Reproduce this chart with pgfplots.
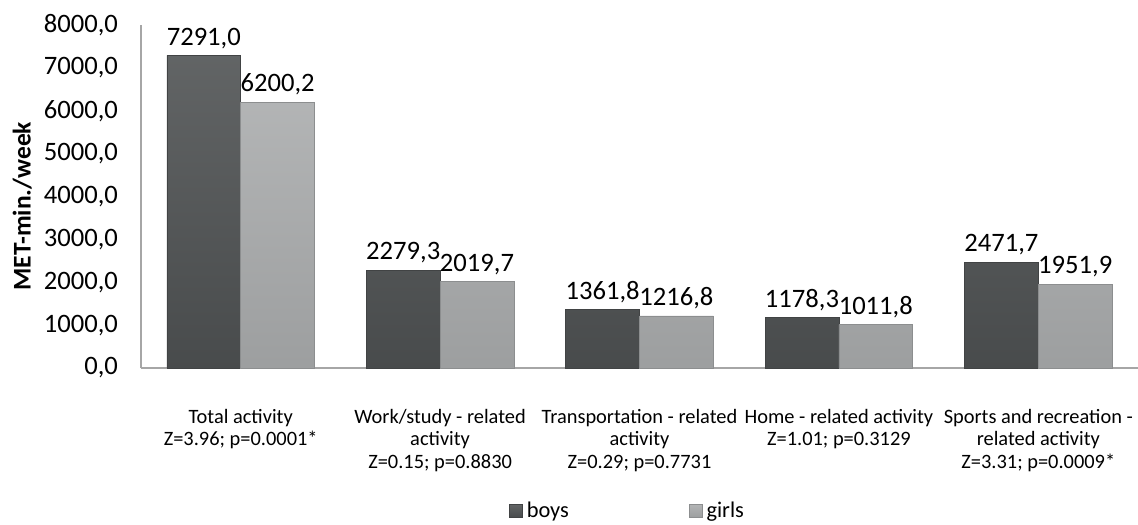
\documentclass[border=0pt]{standalone}
\usepackage{pgfplots}
\pgfplotsset{compat=1.18}
\usepackage{fontspec}
\setmainfont{Carlito}
\definecolor{boysc}{HTML}{4C4F50}
\definecolor{girlsc}{HTML}{A5A7A8}
\begin{document}
\begin{tikzpicture}
\begin{axis}[
  scale only axis,
  width=498.5pt, height=171.5pt,
  ymin=0, ymax=8000,
  xmin=-0.5, xmax=4.5,
  ytick={0,1000,...,8000},
  xtick={0,1,2,3,4},
  xticklabels={
    {Total activity\\Z=3.96; p=0.0001*},
    {Work/study - related\\activity\\Z=0.15; p=0.8830},
    {Transportation - related\\activity\\Z=0.29; p=0.7731},
    {Home - related activity\\Z=1.01; p=0.3129},
    {Sports and recreation -\\related activity\\Z=3.31; p=0.0009*}},
  xticklabel style={align=center, font=\fontsize{10.2}{11.3}\selectfont, yshift=-17pt},
  yticklabel style={font=\fontsize{13.3}{15}\selectfont, xshift=-8pt},
  major tick length=0pt,
  axis x line*=bottom,
  axis y line*=left,
  axis line style={draw=gray!70, line width=0.6pt},
  y axis line style={-},
  x axis line style={-},
  ylabel={\textbf{MET-min./week}},
  ylabel style={at={(axis description cs:-0.119,0.472)}, anchor=center, rotate=0, font=\fontsize{12.75}{14}\selectfont},
  yticklabel style={/pgf/number format/.cd, fixed, fixed zerofill, precision=1, use comma, 1000 sep={}, assume math mode=true},
  ybar, bar width=0.37,
  nodes near coords,
  nodes near coords style={font=\fontsize{13.3}{15}\selectfont, /pgf/number format/.cd, fixed, fixed zerofill, precision=1, use comma, 1000 sep={}, assume math mode=true},
  legend columns=2,
  legend style={at={(0.489,-0.417)}, anchor=center, draw=none, font=\fontsize{11.2}{13}\selectfont,
    /tikz/every even column/.append style={column sep=58pt}},
  legend image code/.code={\fill[#1] (0pt,-3.25pt) rectangle (6.5pt,3.25pt);},
]
\addplot[bar shift=-0.185, draw=boysc!85!black, line width=0.3pt, top color=boysc!88!white, bottom color=boysc!95!black] coordinates {(0,7291.0) (1,2279.3) (2,1361.8) (3,1178.3) (4,2471.7)};
\addlegendentry{boys}
\addplot[bar shift=0.185, draw=girlsc!85!black, line width=0.3pt, top color=girlsc!85!white, bottom color=girlsc!95!black] coordinates {(0,6200.2) (1,2019.7) (2,1216.8) (3,1011.8) (4,1951.9)};
\addlegendentry{girls}
\end{axis}
\pgfresetboundingbox
\path ([xshift=-70.5pt,yshift=12.5pt]current axis.north west) rectangle ([yshift=-78pt]current axis.south east);
\end{tikzpicture}
\end{document}
